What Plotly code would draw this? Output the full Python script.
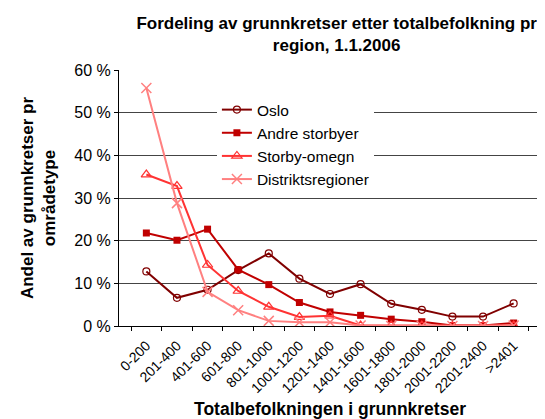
import plotly.graph_objects as go

categories = ["0-200", "201-400", "401-600", "601-800", "801-1000", "1001-1200", "1201-1400",
              "1401-1600", "1601-1800", "1801-2000", "2001-2200", "2201-2400", ">2401"]

oslo = [12.8, 6.6, 8.5, 13.1, 17.0, 11.1, 7.5, 9.8, 5.2, 3.8, 2.2, 2.2, 5.3]
andre_storbyer = [21.8, 20.1, 22.7, 13.2, 9.7, 5.5, 3.3, 2.5, 1.6, 1.0, 0.1, 0.1, 0.7]
storby_omegn = [35.5, 32.8, 14.3, 8.2, 4.5, 2.1, 2.4, 0.1, 0.1, 0.1, 0.0, 0.0, 0.1]
distrikt = [55.8, 28.8, 8.0, 3.7, 1.2, 0.9, 0.9, 0.1, 0.0, 0.0, 0.0, 0.0, 0.1]

FONT = "Liberation Sans, Arial, sans-serif"

fig = go.Figure()

series = [
    ("Oslo", oslo, "#800000", dict(symbol="circle-open", size=7, color="#800000", line=dict(width=1.2))),
    ("Andre storbyer", andre_storbyer, "#C00000", dict(symbol="square", size=7, color="#C00000")),
    ("Storby-omegn", storby_omegn, "#FF3333", dict(symbol="triangle-up-open", size=9, color="#FF3333", line=dict(width=1.2))),
    ("Distriktsregioner", distrikt, "#FF8080", dict(symbol="x-thin-open", size=10, color="#FF8080", line=dict(width=1.5, color="#FF8080"))),
]

for name, vals, color, marker in series:
    fig.add_trace(go.Scatter(
        x=categories, y=vals, name=name, legendgroup=name,
        mode="lines+markers",
        line=dict(color=color, width=2),
        marker=marker,
    ))

# page body has an 8px margin, so the figure is sized to fit the window after it
fig.update_layout(
    width=537, height=411,
    margin=dict(l=111, r=4, t=62, b=93),
    paper_bgcolor="white", plot_bgcolor="white",
    font=dict(family=FONT, color="black", size=15),
    title=dict(
        text="<b>Fordeling av grunnkretser etter totalbefolkning pr<br>region, 1.1.2006</b>",
        x=0.612, xanchor="center", y=0.95, yanchor="top",
        font=dict(size=17),
    ),
    legend=dict(
        x=0.232, y=0.91, xanchor="left", yanchor="top",
        bgcolor="white", font=dict(size=15.5),
        itemwidth=30, tracegroupgap=0,
    ),
    showlegend=True,
)

fig.update_xaxes(
    type="category", automargin=False,
    showline=True, linecolor="black", linewidth=1,
    ticks="outside", tickson="boundaries", ticklen=4, tickcolor="black",
    tickangle=-45, tickfont=dict(size=14), ticklabelstandoff=5,
    showgrid=False,
    title=dict(text="<b>Totalbefolkningen i grunnkretser</b>", font=dict(size=17.5), standoff=8),
)

fig.update_yaxes(
    range=[0, 60], dtick=10, ticksuffix=" %", automargin=False,
    showline=True, linecolor="black", linewidth=1,
    ticks="outside", ticklen=4, tickcolor="black",
    tickfont=dict(size=16),
    showgrid=True, gridcolor="#444444", gridwidth=1,
    zeroline=False,
    title=dict(text="<b>Andel av grunnkretser pr<br>områdetype</b>", font=dict(size=17), standoff=14),
)

fig.write_html("out.html")
